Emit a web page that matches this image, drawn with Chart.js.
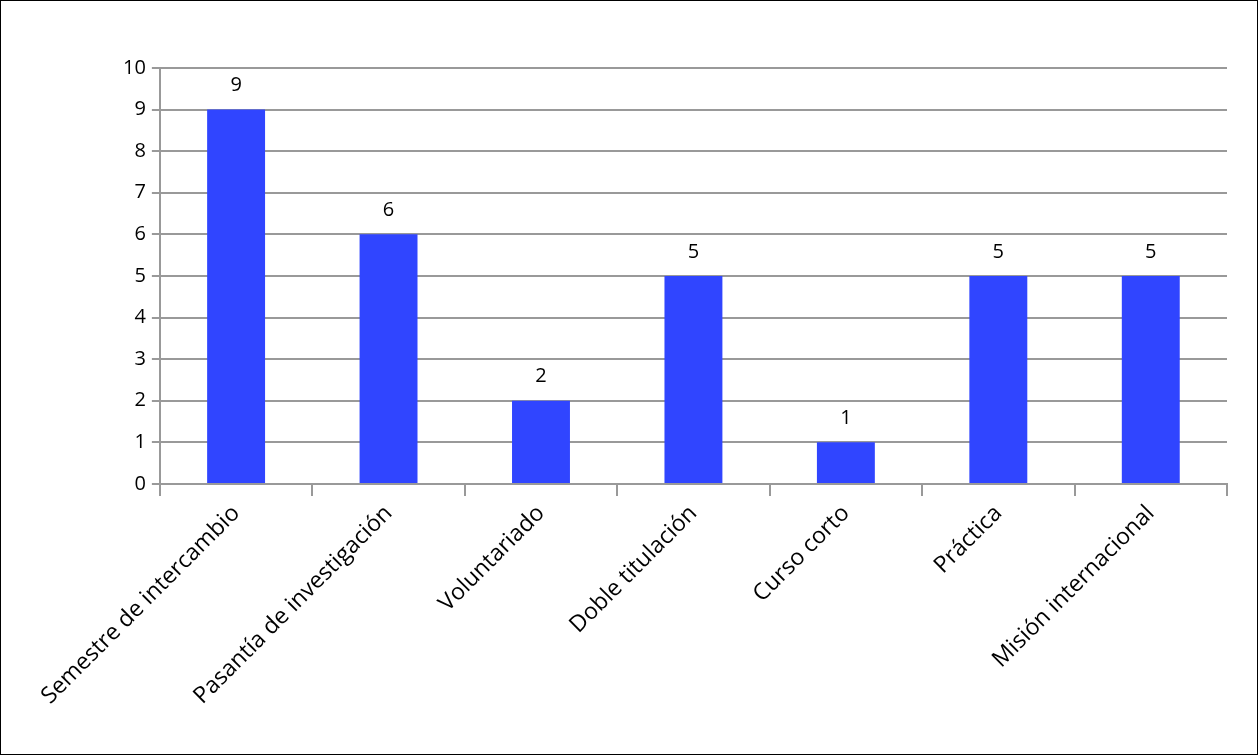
<!DOCTYPE html>
<html>
<head>
<meta charset="utf-8">
<script src="https://cdn.jsdelivr.net/npm/chart.js@4"></script>
<style>
  html, body { margin: 0; padding: 0; background: #fff; }
  #wrap { width: 1256px; height: 753px; border: 1px solid #000; }
</style>
</head>
<body>
<div id="wrap"><canvas id="myChart" width="1256" height="753"></canvas></div>
<script>
const categorias = ['Semestre de intercambio', 'Pasantía de investigación', 'Voluntariado', 'Doble titulación', 'Curso corto', 'Práctica', 'Misión internacional'];
const valores = [9, 6, 2, 5, 1, 5, 5];

// etiquetas encima de cada barra
const etiquetas = {
    id: 'etiquetas',
    afterDatasetsDraw(chart) {
        const ctx = chart.ctx;
        const meta = chart.getDatasetMeta(0);
        ctx.save();
        ctx.font = '20px "Open Sans", sans-serif';
        ctx.fillStyle = '#000';
        ctx.textAlign = 'center';
        ctx.textBaseline = 'bottom';
        meta.data.forEach((bar, i) => {
            ctx.fillText(valores[i], bar.x, bar.y - 14);
        });
        ctx.restore();
    }
};

new Chart(document.getElementById('myChart').getContext('2d'), {
    type: 'bar',
    data: {
        labels: categorias,
        datasets: [{
            data: valores,
            backgroundColor: '#3045ff',
            barPercentage: 0.38,
            categoryPercentage: 1
        }]
    },
    options: {
        responsive: false,
        animation: false,
        layout: { padding: { top: 67, right: 30, left: 116, bottom: 40 } },
        plugins: { legend: { display: false }, tooltip: { enabled: false } },
        scales: {
            y: {
                min: 0, max: 10,
                ticks: { stepSize: 1, color: '#000', font: { size: 20, family: '"Open Sans", sans-serif' }, padding: 6 },
                grid: { color: '#999', lineWidth: 2, tickLength: 8 },
                border: { color: '#999', width: 2 }
            },
            x: {
                ticks: { color: '#000', font: { size: 23, family: '"Open Sans", sans-serif' }, maxRotation: 45, minRotation: 45, padding: 4 },
                grid: { display: true, offset: true, drawOnChartArea: false, color: '#999', lineWidth: 2, tickLength: 12 },
                border: { color: '#999', width: 2 }
            }
        }
    },
    plugins: [etiquetas]
});
</script>
</body>
</html>
